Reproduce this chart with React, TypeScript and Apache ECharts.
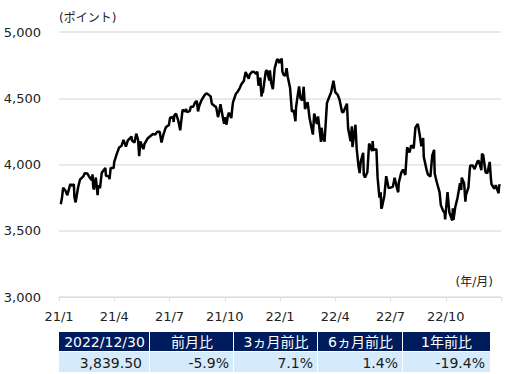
import React, { useEffect, useRef } from "react";
import * as echarts from "echarts";

const dates: string[] = [
  "2021-01-04","2021-01-06","2021-01-08","2021-01-12","2021-01-15","2021-01-20","2021-01-22","2021-01-26","2021-01-27","2021-01-29",
  "2021-02-02","2021-02-05","2021-02-10","2021-02-12","2021-02-16","2021-02-19","2021-02-23","2021-02-24","2021-02-25","2021-02-26",
  "2021-03-01","2021-03-04","2021-03-05","2021-03-08","2021-03-11","2021-03-12","2021-03-17","2021-03-18","2021-03-19","2021-03-23","2021-03-24","2021-03-26","2021-03-31",
  "2021-04-01","2021-04-05","2021-04-09","2021-04-13","2021-04-16","2021-04-20","2021-04-23","2021-04-29","2021-04-30",
  "2021-05-04","2021-05-07","2021-05-10","2021-05-12","2021-05-14","2021-05-19","2021-05-21","2021-05-26","2021-05-28",
  "2021-06-04","2021-06-08","2021-06-11","2021-06-15","2021-06-18","2021-06-21","2021-06-25","2021-06-30",
  "2021-07-02","2021-07-07","2021-07-08","2021-07-09","2021-07-12","2021-07-16","2021-07-19","2021-07-23","2021-07-27","2021-07-29","2021-07-30",
  "2021-08-04","2021-08-06","2021-08-10","2021-08-13","2021-08-16","2021-08-18","2021-08-20","2021-08-24","2021-08-27","2021-08-30",
  "2021-09-02","2021-09-03","2021-09-08","2021-09-10","2021-09-14","2021-09-17","2021-09-20","2021-09-22","2021-09-24","2021-09-28","2021-09-30",
  "2021-10-01","2021-10-04","2021-10-06","2021-10-08","2021-10-12","2021-10-14","2021-10-15","2021-10-20","2021-10-22","2021-10-26","2021-10-29",
  "2021-11-02","2021-11-05","2021-11-10","2021-11-12","2021-11-16","2021-11-19","2021-11-22","2021-11-24","2021-11-26","2021-11-29","2021-11-30",
  "2021-12-01","2021-12-02","2021-12-03","2021-12-08","2021-12-10","2021-12-14","2021-12-15","2021-12-17","2021-12-20","2021-12-23","2021-12-27","2021-12-29","2021-12-31",
  "2022-01-03","2022-01-04","2022-01-05","2022-01-07","2022-01-10","2022-01-12","2022-01-14","2022-01-18","2022-01-21","2022-01-24","2022-01-27","2022-01-28",
  "2022-02-02","2022-02-04","2022-02-07","2022-02-09","2022-02-11","2022-02-15","2022-02-18","2022-02-23","2022-02-25",
  "2022-03-01","2022-03-03","2022-03-04","2022-03-08","2022-03-09","2022-03-11","2022-03-14","2022-03-18","2022-03-22","2022-03-25","2022-03-29",
  "2022-04-01","2022-04-05","2022-04-08","2022-04-12","2022-04-14","2022-04-20","2022-04-22","2022-04-26","2022-04-28","2022-04-29",
  "2022-05-04","2022-05-06","2022-05-09","2022-05-11","2022-05-13","2022-05-17","2022-05-18","2022-05-20","2022-05-24","2022-05-27",
  "2022-06-01","2022-06-02","2022-06-03","2022-06-08","2022-06-10","2022-06-13","2022-06-15","2022-06-16","2022-06-17","2022-06-21","2022-06-24","2022-06-28",
  "2022-07-01","2022-07-05","2022-07-08","2022-07-12","2022-07-14","2022-07-15","2022-07-19","2022-07-22","2022-07-26","2022-07-29",
  "2022-08-02","2022-08-05","2022-08-09","2022-08-12","2022-08-16","2022-08-19","2022-08-22","2022-08-25","2022-08-26","2022-08-31",
  "2022-09-02","2022-09-06","2022-09-09","2022-09-12","2022-09-13","2022-09-16","2022-09-21","2022-09-23","2022-09-27","2022-09-29","2022-09-30",
  "2022-10-04","2022-10-07","2022-10-12","2022-10-13","2022-10-14","2022-10-17","2022-10-21","2022-10-25","2022-10-27","2022-10-28",
  "2022-11-01","2022-11-03","2022-11-04","2022-11-08","2022-11-10","2022-11-11","2022-11-15","2022-11-18","2022-11-23","2022-11-25","2022-11-29","2022-11-30",
  "2022-12-02","2022-12-06","2022-12-09","2022-12-13","2022-12-15","2022-12-16","2022-12-20","2022-12-22","2022-12-23","2022-12-28","2022-12-29","2022-12-30",
];

const values: number[] = [
  3700.65,3748.14,3824.68,3801.19,3768.25,3851.85,3841.47,3849.62,3750.77,3714.24,
  3826.31,3886.83,3909.88,3934.83,3932.59,3906.71,3881.37,3925.43,3829.34,3811.15,
  3901.82,3768.47,3841.94,3821.35,3939.34,3943.34,3974.12,3915.46,3913.10,3910.52,3889.14,3974.54,3972.89,
  4019.87,4077.91,4128.80,4141.59,4185.47,4134.94,4180.17,4211.47,4181.17,
  4164.66,4232.60,4188.43,4063.04,4173.85,4115.68,4155.86,4195.99,4204.11,
  4229.89,4227.26,4247.44,4246.59,4166.45,4224.79,4280.70,4297.50,
  4352.34,4358.13,4320.82,4369.55,4384.63,4327.16,4258.49,4411.79,4401.46,4419.15,4395.26,
  4402.66,4436.52,4436.75,4468.00,4479.71,4400.27,4441.67,4486.23,4509.37,4528.79,
  4536.95,4535.43,4514.07,4458.58,4443.05,4432.99,4357.73,4395.64,4455.48,4352.63,4307.54,
  4357.04,4300.46,4363.55,4391.34,4350.65,4438.26,4471.37,4536.19,4544.90,4574.79,4605.38,
  4630.65,4697.53,4646.71,4682.85,4700.90,4697.96,4682.94,4701.46,4594.62,4655.27,4567.00,
  4513.04,4577.10,4538.43,4701.21,4712.02,4634.09,4709.85,4620.64,4568.02,4725.79,4791.19,4793.06,4766.18,
  4796.56,4793.54,4700.58,4677.03,4670.29,4726.35,4662.85,4577.11,4397.94,4410.13,4326.51,4431.85,
  4589.38,4500.53,4483.87,4587.18,4418.64,4471.07,4348.87,4225.50,4384.65,
  4306.26,4363.49,4328.87,4170.70,4277.88,4204.31,4173.11,4463.12,4511.61,4543.06,4631.60,
  4545.86,4525.12,4488.28,4397.45,4392.59,4459.45,4271.78,4175.20,4287.50,4131.93,
  4300.17,4123.34,3991.24,3935.18,4023.89,4088.85,3923.68,3901.36,3941.48,4158.24,
  4101.23,4176.82,4108.54,4115.77,3900.86,3749.63,3789.99,3666.77,3674.84,3764.79,3911.74,3821.55,
  3825.33,3831.39,3899.38,3818.80,3790.38,3863.16,3936.69,3961.63,3921.05,4130.29,
  4091.19,4145.19,4122.47,4280.15,4305.20,4228.48,4137.99,4199.12,4057.66,3955.00,
  3924.26,3908.19,4067.36,4110.41,3932.69,3873.33,3789.93,3693.23,3647.29,3640.47,3585.62,
  3790.93,3639.66,3577.03,3669.91,3583.07,3677.95,3752.75,3859.11,3807.30,3901.06,
  3856.10,3719.89,3770.55,3828.11,3956.37,3992.93,3991.73,3965.34,4027.26,4026.12,3957.63,4080.11,
  4071.70,3941.26,3934.38,4019.65,3895.75,3852.36,3821.62,3822.39,3844.82,3783.22,3849.28,3839.50,
];

const yTicks: number[] = [3000, 3500, 4000, 4500, 5000];
const xTickLabels: string[] = ["21/1", "21/4", "21/7", "21/10", "22/1", "22/4", "22/7", "22/10"];

const tableHeaders: string[] = ["2022/12/30", "前月比", "3ヵ月前比", "6ヵ月前比", "1年前比"];
const tableValues: string[] = ["3,839.50", "-5.9%", "7.1%", "1.4%", "-19.4%"];

const FONT = '"DejaVu Sans", "Noto Sans CJK JP", sans-serif';

function monthIndex(d: string): number {
  const [y, m, day] = d.split("-").map(Number);
  const dim = new Date(y, m, 0).getDate();
  return (y - 2021) * 12 + (m - 1) + (day - 1) / dim;
}

export default function App() {
  const ref = useRef<HTMLDivElement>(null);
  useEffect(() => {
    if (!ref.current) return;
    const chart = echarts.init(ref.current, undefined, { renderer: "svg" });

    const colEdges = [59, 150, 234, 318, 403, 490];
    const headTop = 332;
    const headBottom = 352;
    const rowBottom = 372;
    const graphics: any[] = [];
    for (let i = 0; i < tableHeaders.length; i++) {
      const x0 = colEdges[i];
      const x1 = colEdges[i + 1];
      const gap = i < tableHeaders.length - 1 ? 1 : 0;
      graphics.push({
        type: "rect",
        shape: { x: x0, y: headTop, width: x1 - x0 - gap, height: headBottom - headTop - 1 },
        style: { fill: "#001c5c" },
        silent: true,
      });
      graphics.push({
        type: "rect",
        shape: { x: x0, y: headBottom, width: x1 - x0 - gap, height: rowBottom - headBottom },
        style: { fill: "#d5eafb" },
        silent: true,
      });
      graphics.push({
        type: "text",
        style: {
          text: tableHeaders[i],
          x: (x0 + x1) / 2,
          y: (headTop + headBottom) / 2,
          textAlign: "center",
          textVerticalAlign: "middle",
          fill: "#ffffff",
          font: `14px ${FONT}`,
        },
        silent: true,
      });
      graphics.push({
        type: "text",
        style: {
          text: tableValues[i],
          x: x1 - (i === 0 ? 8 : 5),
          y: (headBottom + rowBottom) / 2 + 1,
          textAlign: "right",
          textVerticalAlign: "middle",
          fill: "#1a1a1a",
          font: `14px ${FONT}`,
        },
        silent: true,
      });
    }
    graphics.push({
      type: "text",
      style: {
        text: "(ポイント)",
        x: 59,
        y: 18,
        textAlign: "left",
        textVerticalAlign: "middle",
        fill: "#222",
        font: `12px ${FONT}`,
      },
    });
    graphics.push({
      type: "text",
      style: {
        text: "(年/月)",
        x: 493,
        y: 282,
        textAlign: "right",
        textVerticalAlign: "middle",
        fill: "#222",
        font: `12px ${FONT}`,
      },
    });

    chart.setOption({
      animation: false,
      grid: { left: 59, right: 28, top: 32, bottom: 77, containLabel: false },
      xAxis: {
        type: "value",
        min: 0,
        max: 24,
        interval: 3,
        axisLine: { show: true, lineStyle: { color: "#dddddd", width: 1 } },
        axisTick: { show: true, length: 4, lineStyle: { color: "#dddddd" } },
        splitLine: { show: false },
        axisLabel: {
          margin: 13,
          color: "#222",
          fontFamily: FONT,
          fontSize: 13,
          formatter: (v: number) => xTickLabels[Math.round(v / 3)] ?? "",
        },
      },
      yAxis: {
        type: "value",
        min: yTicks[0],
        max: yTicks[yTicks.length - 1],
        interval: 500,
        axisLine: { show: false },
        axisTick: { show: false },
        splitLine: { show: true, lineStyle: { color: "#e2e2e2", width: 1.5 } },
        axisLabel: {
          margin: 18,
          color: "#222",
          fontFamily: FONT,
          fontSize: 13,
          formatter: (v: number) => v.toLocaleString("en-US"),
        },
      },
      series: [
        {
          type: "line",
          data: dates.map((d, i) => [monthIndex(d), values[i]]),
          showSymbol: false,
          lineStyle: { color: "#000000", width: 2.5 },
          itemStyle: { color: "#000000" },
        },
      ],
      graphic: graphics,
    });
    return () => chart.dispose();
  }, []);
  return <div ref={ref} style={{ width: 529, height: 374, position: "absolute", left: 0, top: 0, background: "#fff" }} />;
}
